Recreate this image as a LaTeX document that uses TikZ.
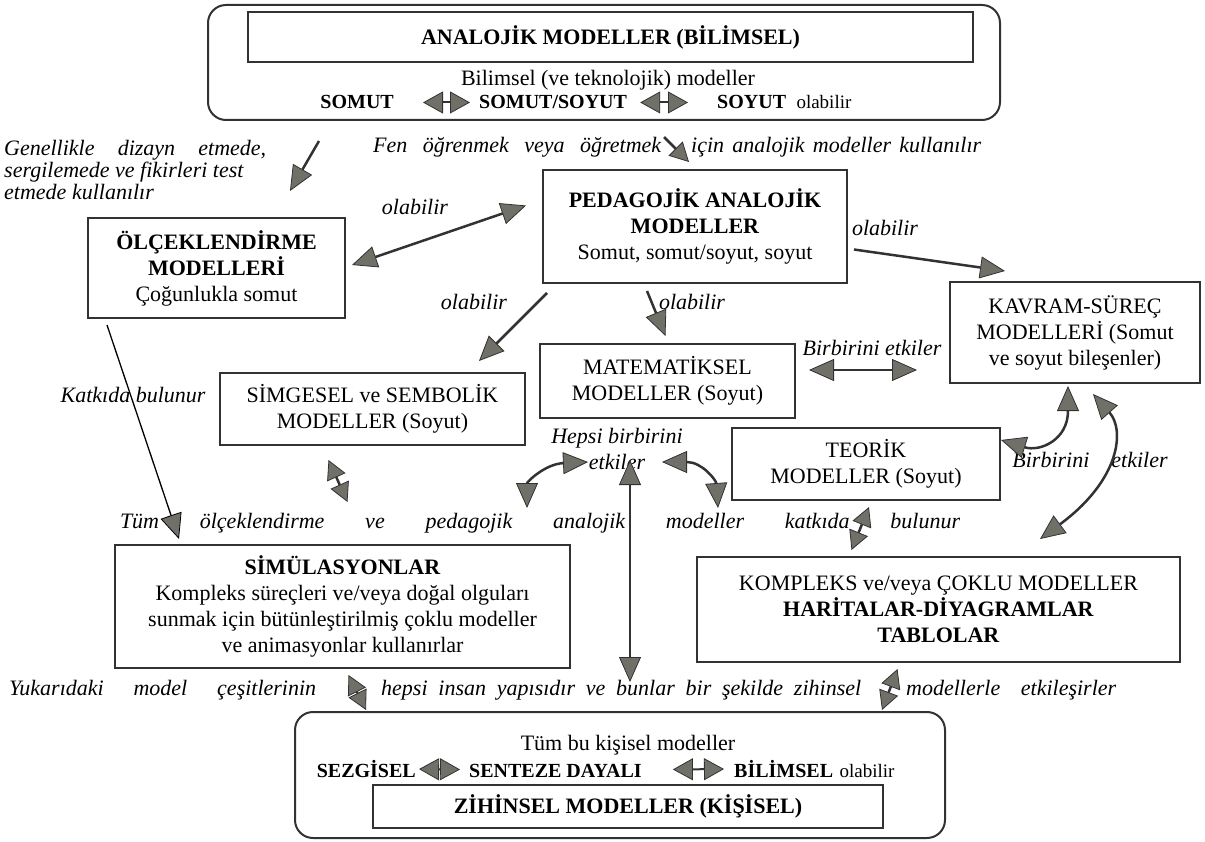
\documentclass[tikz,border=0pt]{standalone}
\usepackage{fontspec}
\setmainfont{Liberation Serif}
\usetikzlibrary{arrows.meta}

\definecolor{headgray}{RGB}{112,112,104}
\definecolor{linegray}{RGB}{50,50,50}
\newcommand\bodyfont{\fontsize{22}{26}\selectfont}
\newcommand\rowfont{\fontsize{20}{24}\selectfont\bfseries}

\tikzset{
  box/.style={draw=linegray, line width=2pt, align=center, inner sep=2pt},
  rbox/.style={draw=linegray, line width=2pt, rounded corners=18pt},
  txt/.style={inner sep=1pt},
  lbl/.style={inner sep=1pt, font=\bodyfont\itshape},
  link/.style={draw=linegray, line width=2.5pt, ->},
  twoway/.style={draw=linegray, line width=2.5pt, <->},
  small/.style={>={Triangle[length=19pt,width=20pt,fill=headgray,line width=0.8pt]}},
  blk/.style={draw=linegray, line width=2pt, <->, >={Triangle[length=20pt,width=22pt,fill=headgray,line width=0.8pt]}},
}

\begin{document}
\begin{tikzpicture}[x=1pt, y=-1pt,
    >={Triangle[length=25pt,width=22pt,fill=headgray,line width=0.8pt]},
    every node/.style={font=\bodyfont}]
  \useasboundingbox (0,0) rectangle (1205,842);

  % Analojik modeller (ust kutu)
  \node[rbox, minimum width=792pt, minimum height=115pt] (anabox) at (604,62.5) {};
  \node[box, minimum width=725pt, minimum height=50pt, font=\bodyfont\bfseries] (anatitle) at (610.5,37) {ANALOJİK MODELLER (BİLİMSEL)};
  \node[txt] (bilim) at (608,80) {Bilimsel (ve teknolojik) modeller};
  \node[txt, anchor=base east, font=\rowfont] (somut) at (395,109) {SOMUT};
  \node[txt, anchor=base west, font=\rowfont] (somsoy) at (478,109) {SOMUT/SOYUT};
  \node[txt, anchor=base west, font=\rowfont] (soyut) at (716,109) {SOYUT};
  \node[txt, anchor=base west, font=\fontsize{19}{22}\selectfont, xshift=8pt] (olab0) at (soyut.base east) {olabilir};
  \draw[blk, shorten <=28pt, shorten >=8pt] (somut) -- (somsoy);
  \draw[blk, shorten <=12pt, shorten >=28pt] (somsoy) -- (soyut);

  % Kutular
  \node[box, minimum width=304pt, minimum height=113pt] (ped) at (695,226.5)
    {\textbf{PEDAGOJİK ANALOJİK}\\\textbf{MODELLER}\\Somut, somut/soyut, soyut};
  \node[box, minimum width=257pt, minimum height=100pt] (olcek) at (216.5,268)
    {\textbf{ÖLÇEKLENDİRME}\\\textbf{MODELLERİ}\\Çoğunlukla somut};
  \node[box, minimum width=250pt, minimum height=101pt] (kavram) at (1075,332.5)
    {KAVRAM-SÜREÇ\\MODELLERİ (Somut\\ve soyut bileşenler)};
  \node[box, minimum width=255pt, minimum height=74pt] (mat) at (667.5,381)
    {MATEMATİKSEL\\MODELLER (Soyut)};
  \node[box, minimum width=305pt, minimum height=72pt] (simg) at (372.5,409)
    {SİMGESEL ve SEMBOLİK\\MODELLER (Soyut)};
  \node[box, minimum width=268pt, minimum height=72pt] (teorik) at (866,464)
    {TEORİK\\MODELLER (Soyut)};
  \node[box, minimum width=455pt, minimum height=123pt] (sim) at (342.5,606.5)
    {\textbf{SİMÜLASYONLAR}\\Kompleks süreçleri ve/veya doğal olguları\\sunmak için bütünleştirilmiş çoklu modeller\\ve animasyonlar kullanırlar};
  \node[box, minimum width=483pt, minimum height=105pt] (komp) at (938.5,609.5)
    {KOMPLEKS ve/veya ÇOKLU MODELLER\\\textbf{HARİTALAR-DİYAGRAMLAR}\\\textbf{TABLOLAR}};

  % Zihinsel modeller (alt kutu)
  \node[rbox, minimum width=650pt, minimum height=126pt] (zbox) at (620,775) {};
  \node[box, minimum width=510pt, minimum height=43pt, font=\bodyfont\bfseries] (ztitle) at (628,806.5) {ZİHİNSEL MODELLER (KİŞİSEL)};
  \node[txt] (tumbu) at (628,745) {Tüm bu kişisel modeller};
  \node[txt, anchor=base east, font=\rowfont] (sezg) at (417,777) {SEZGİSEL};
  \node[txt, anchor=base west, font=\rowfont] (sentez) at (468,777) {SENTEZE DAYALI};
  \node[txt, anchor=base west, font=\rowfont] (bilimsel) at (733,777) {BİLİMSEL};
  \node[txt, anchor=base west, font=\fontsize{19}{22}\selectfont, xshift=4pt] (olab9) at (bilimsel.base east) {olabilir};
  \draw[blk, shorten <=2pt, shorten >=8pt] (sezg) -- (sentez);
  \draw[blk, shorten <=30pt, shorten >=9pt] (sentez) -- (bilimsel);

  % Etiketler
  \node[lbl, anchor=north west, align=left, font=\fontsize{22}{22}\selectfont\itshape] (genel) at (3,139)
    {\makebox[262pt][s]{Genellikle dizayn etmede,}\\sergilemede ve fikirleri test\\etmede kullanılır};
  \node[lbl, anchor=west] (fen) at (372,147) {\makebox[288pt][s]{Fen öğrenmek veya öğretmek}};
  \node[lbl, anchor=west] (icin) at (690,147) {\makebox[290pt][s]{için analojik modeller kullanılır}};
  \node[lbl] (ol1) at (415,207) {olabilir};
  \node[lbl] (ol2) at (885,228) {olabilir};
  \node[lbl] (ol3) at (474,302) {olabilir};
  \node[lbl] (ol4) at (692,302) {olabilir};
  \node[lbl] (bir1) at (872,348) {Birbirini etkiler};
  \node[lbl] (katki) at (133,395) {Katkıda bulunur};
  \node[lbl, align=center] (hepsi) at (617,449) {Hepsi birbirini\\etkiler};
  \node[lbl] (bir2) at (1090,460) {Birbirini\quad etkiler};
  \node[lbl] (tum) at (540,523) {\makebox[840pt][s]{Tüm ölçeklendirme ve pedagojik analojik modeller katkıda bulunur}};
  \node[lbl, anchor=west] (yuk1) at (8,690) {\makebox[307pt][s]{Yukarıdaki model çeşitlerinin}};
  \node[lbl, anchor=west] (yuk2) at (380,690) {\makebox[480pt][s]{hepsi insan yapısıdır ve bunlar bir şekilde zihinsel}};
  \node[lbl, anchor=west] (yuk3) at (905,690) {\makebox[210pt][s]{modellerle etkileşirler}};

  % Oklar
  \draw[link] ([xshift=112pt,yshift=-20pt]anabox.south west) -- ([xshift=73.5pt,yshift=26pt]olcek.north);
  \draw[link, small] ([xshift=60pt,yshift=-16pt]anabox.south) -- ([xshift=-6pt,yshift=7pt]ped.north);
  \draw[twoway] ([xshift=6pt,yshift=3pt]olcek.east) -- ([xshift=-16pt,yshift=21pt]ped.west);
  \draw[link] ([xshift=6pt,yshift=-23pt]ped.east) -- ([xshift=-70pt,yshift=10pt]kavram.north);
  \draw[link] ([xshift=5pt,yshift=-9pt]ped.south west) -- ([xshift=-47pt,yshift=11pt]simg.north east);
  \draw[link] ([xshift=-48pt,yshift=-7pt]ped.south) -- ([xshift=-2pt,yshift=7pt]mat.north);
  \draw[twoway] ([xshift=13pt,yshift=11pt]mat.east) -- ([xshift=-32pt,yshift=-37.5pt]kavram.west);
  \draw[draw=black, line width=1.3pt, ->] ([xshift=20pt,yshift=-6pt]olcek.south west) -- ([xshift=65pt,yshift=5pt]sim.north west);
  \draw[twoway, small] ([xshift=-44pt,yshift=-14pt]simg.south) -- ([xshift=5pt,yshift=42pt]sim.north);

  % Hepsi birbirini etkiler
  \coordinate (hl) at (588,462);
  \coordinate (hld) at (527,508);
  \coordinate (hr) at (662,462);
  \coordinate (hrd) at (718,508);
  \coordinate (ht) at (630,460);
  \coordinate (hb) at (630,682);
  \draw[twoway] (hl) .. controls (545,464) and (527,482) .. (hld);
  \draw[twoway] (hr) .. controls (702,462) and (716,480) .. (hrd);
  \draw[twoway] (ht) -- (hb);

  % Sag taraf
  \draw[twoway] ([yshift=24pt]teorik.east) .. controls (1040,452) and (1068,440) .. ([xshift=-7pt,yshift=-2pt]kavram.south);
  \draw[twoway] ([xshift=18pt,yshift=-10pt]kavram.south) .. controls (1125,430) and (1120,480) .. ([xshift=101.5pt,yshift=17pt]komp.north);
  \draw[twoway, small] ([xshift=3pt,yshift=-6pt]teorik.south) -- ([xshift=-87pt,yshift=6pt]komp.north);

  % Alt kutuya
  \draw[twoway, small] ([xshift=6pt,yshift=-6pt]sim.south) -- ([xshift=72pt,yshift=1pt]zbox.north west);
  \draw[twoway, small] ([xshift=-41pt,yshift=-6pt]komp.south) -- ([xshift=-64pt,yshift=1pt]zbox.north east);
\end{tikzpicture}
\end{document}
